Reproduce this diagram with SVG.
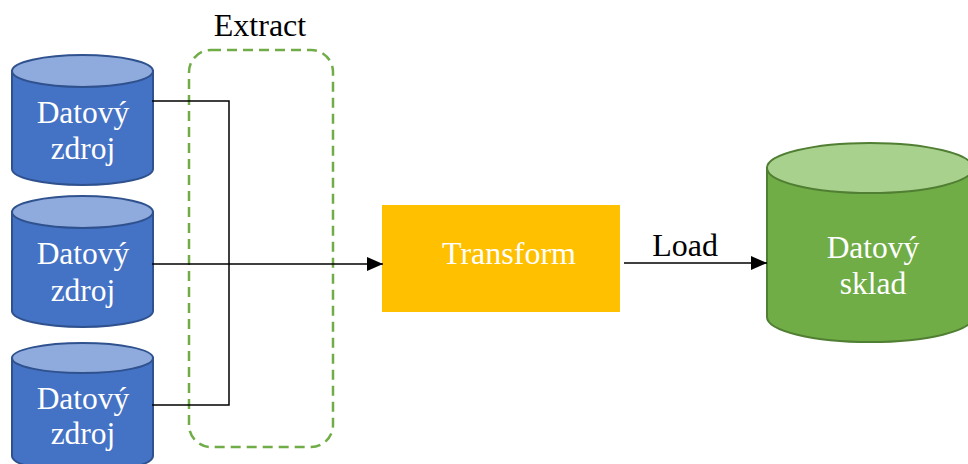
<svg xmlns="http://www.w3.org/2000/svg" width="968" height="464" viewBox="0 0 968 464">
<defs>
<style>
.body-b{fill:#4472C4;stroke:#2F528F;stroke-width:2}
.top-b{fill:#8FAADC;stroke:#2F528F;stroke-width:2}
.body-g{fill:#70AD47;stroke:#507E32;stroke-width:2}
.top-g{fill:#A9D18E;stroke:#507E32;stroke-width:2}
.wt{font-size:31.5px;fill:#FFFFFF;text-anchor:middle}
.bt{font-size:32px;fill:#000000;text-anchor:middle}
.conn{fill:none;stroke:#000000;stroke-width:1.5}
</style>
<marker id="arrow" markerWidth="16" markerHeight="14" refX="16" refY="7" orient="auto" markerUnits="userSpaceOnUse" viewBox="0 0 16 14">
<path d="M0,0 L16,7 L0,14 Z" fill="#000000"/>
</marker>
</defs>
<rect width="968" height="464" fill="#FFFFFF"/>

<g font-family="'Liberation Serif', 'Times New Roman', serif">
<g id="extract">
<rect x="189" y="50" width="144" height="397" rx="22" ry="22" fill="none" stroke="#70AD47" stroke-width="2.5" stroke-dasharray="10,6"/>
<text class="bt" x="260" y="36">Extract</text>
</g>

<g id="source1">
<path class="body-b" d="M12,71 L12,169 A70.5,16 0 0 0 153,169 L153,71 Z"/>
<ellipse class="top-b" cx="82.5" cy="71" rx="70.5" ry="16"/>
<text class="wt" x="83" y="123">Datový</text>
<text class="wt" x="83" y="159">zdroj</text>
</g>

<g id="source2">
<path class="body-b" d="M12,212 L12,311 A70.5,16 0 0 0 153,311 L153,212 Z"/>
<ellipse class="top-b" cx="82.5" cy="212" rx="70.5" ry="16"/>
<text class="wt" x="83" y="264">Datový</text>
<text class="wt" x="83" y="301">zdroj</text>
</g>

<g id="source3">
<path class="body-b" d="M12,358 L12,456 A70.5,16 0 0 0 153,456 L153,358 Z"/>
<ellipse class="top-b" cx="82.5" cy="358" rx="70.5" ry="15"/>
<text class="wt" x="83" y="409">Datový</text>
<text class="wt" x="83" y="444">zdroj</text>
</g>

<g id="transform">
<rect x="382" y="205" width="238" height="107" fill="#FFC000"/>
<text class="wt" x="509" y="264" style="font-size:32px">Transform</text>
</g>

<g id="warehouse">
<path class="body-g" d="M767,168 L767,317 A103,25 0 0 0 973,317 L973,168 Z"/>
<ellipse class="top-g" cx="870" cy="168" rx="103" ry="25"/>
<text class="wt" x="873" y="258">Datový</text>
<text class="wt" x="873" y="294">sklad</text>
</g>

<g id="connectors">
<polyline class="conn" points="152,101 229,101 229,405 152,405"/>
<line class="conn" x1="152" y1="264" x2="383" y2="264" marker-end="url(#arrow)"/>
<line class="conn" x1="624" y1="263" x2="767" y2="263" marker-end="url(#arrow)"/>
<text class="bt" x="685" y="256">Load</text>
</g>
</g>
</svg>
